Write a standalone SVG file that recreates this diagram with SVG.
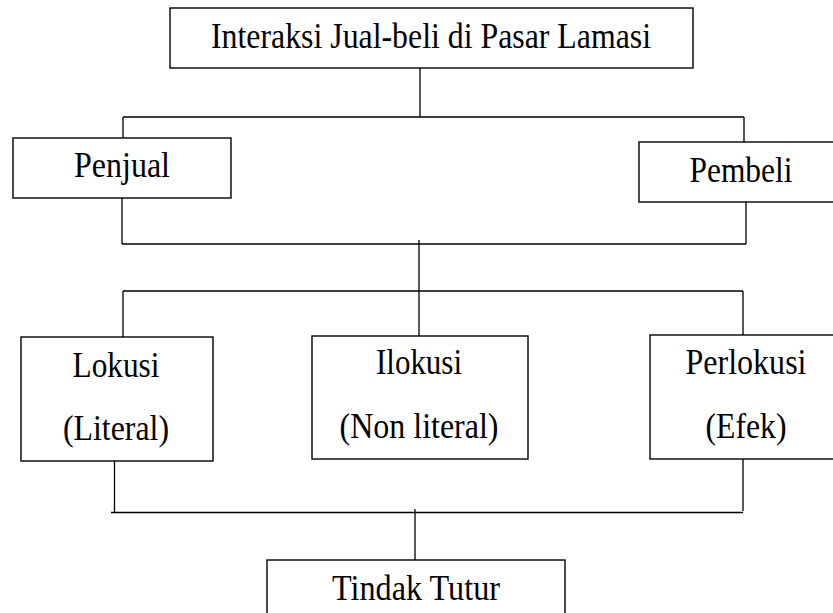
<svg xmlns="http://www.w3.org/2000/svg" width="833" height="613" viewBox="0 0 833 613">
<style>
.box{fill:#fff;stroke:#000;stroke-width:1.4}
.ln{fill:none;stroke:#000;stroke-width:1.3}
.t{font-family:"Liberation Serif","Times New Roman",serif;font-size:36px;fill:#000;text-anchor:middle}
</style>
<rect width="833" height="613" fill="#fff"/>
<g id="connectors">
<path class="ln" d="M420,68 V117 M123,117 H744 M123,117 V139 M744,117 V142"/>
<path class="ln" d="M122,198 V244 M746,202 V244 M122,244 H746 M419,240 V336"/>
<path class="ln" d="M123,291 H743 M123,291 V337 M743,291 V335"/>
<path class="ln" d="M114.5,461 V512 M743,459 V511"/>
<path class="ln" stroke-width="1.8" d="M111,512.5 H743"/>
<path class="ln" d="M415,509 V560"/>
</g>
<g id="node-top">
<rect class="box" x="170" y="8" width="523" height="60"/>
<text class="t" x="431" y="48" textLength="440" lengthAdjust="spacingAndGlyphs">Interaksi Jual-beli di Pasar Lamasi</text>
</g>
<g id="node-penjual">
<rect class="box" x="13" y="138" width="218" height="60"/>
<text class="t" x="122" y="177" textLength="96" lengthAdjust="spacingAndGlyphs">Penjual</text>
</g>
<g id="node-pembeli">
<rect class="box" x="639" y="142" width="200" height="60"/>
<text class="t" x="741" y="182" textLength="103" lengthAdjust="spacingAndGlyphs">Pembeli</text>
</g>
<g id="node-lokusi">
<rect class="box" x="21" y="337" width="192" height="124"/>
<text class="t" x="116" y="377" textLength="87" lengthAdjust="spacingAndGlyphs">Lokusi</text>
<text class="t" x="116" y="440" textLength="106" lengthAdjust="spacingAndGlyphs">(Literal)</text>
</g>
<g id="node-ilokusi">
<rect class="box" x="312" y="336" width="216" height="123"/>
<text class="t" x="419" y="374" textLength="86" lengthAdjust="spacingAndGlyphs">Ilokusi</text>
<text class="t" x="419" y="438" textLength="159" lengthAdjust="spacingAndGlyphs">(Non literal)</text>
</g>
<g id="node-perlokusi">
<rect class="box" x="650" y="335" width="190" height="124"/>
<text class="t" x="746" y="374" textLength="121" lengthAdjust="spacingAndGlyphs">Perlokusi</text>
<text class="t" x="746" y="438" textLength="81" lengthAdjust="spacingAndGlyphs">(Efek)</text>
</g>
<g id="node-tindak">
<rect class="box" x="267" y="560" width="298" height="60"/>
<text class="t" x="416" y="600" textLength="168" lengthAdjust="spacingAndGlyphs">Tindak Tutur</text>
</g>
</svg>
